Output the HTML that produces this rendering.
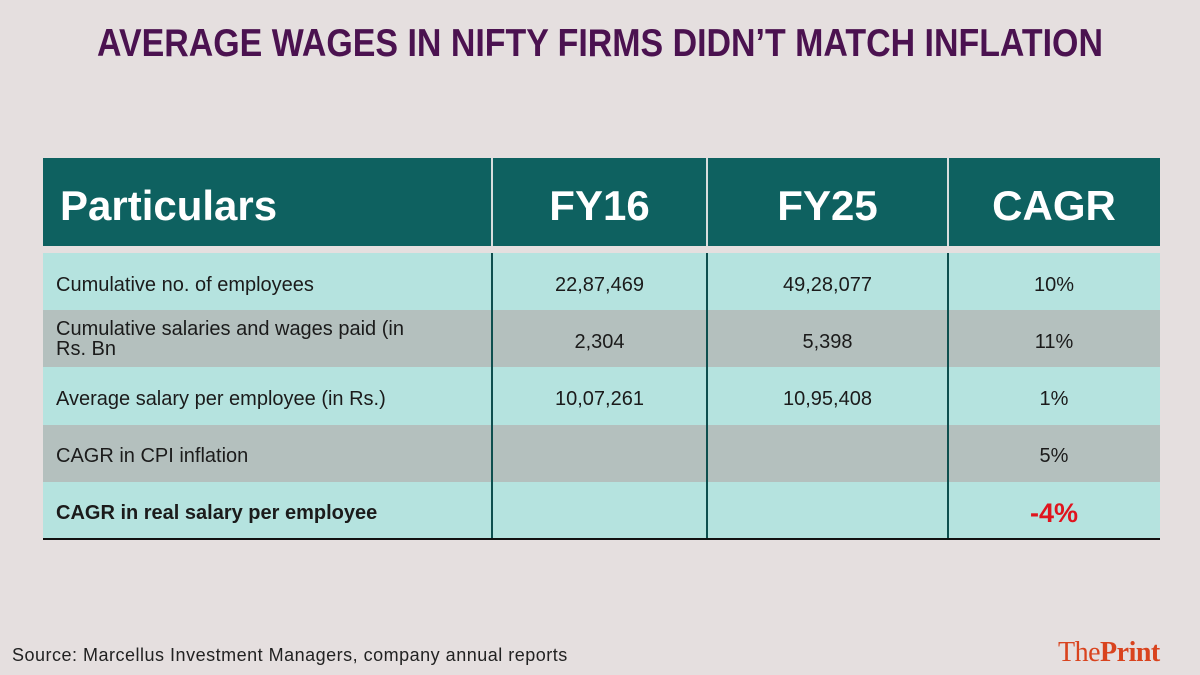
<!DOCTYPE html>
<html><head><meta charset="utf-8"><style>
body{margin:0;width:1200px;height:675px;background:#e5dfdf;position:relative;overflow:hidden;font-family:"Liberation Sans",sans-serif}
.abs{position:absolute}
#title{left:0;width:1200px;top:22px;text-align:center;font-weight:bold;font-size:39px;color:#4b1250;letter-spacing:0px;transform:scaleX(0.87);transform-origin:center}
.hdr{top:158px;height:88px;background:#0e6160;color:#fff;font-weight:bold;font-size:42px;line-height:96px}
.cell{font-size:20px;color:#1b1b1b;display:flex;align-items:center;white-space:pre-line}
.vl{background:#0e4f4f;width:2px}
</style></head><body>
<div id="title" class="abs">AVERAGE WAGES IN NIFTY FIRMS DIDN’T MATCH INFLATION</div>
<div class="abs hdr" style="left:43px;width:1117px"></div>
<div class="abs hdr" style="left:60px;width:420px;background:none">Particulars</div>
<div class="abs hdr" style="left:492px;width:215px;text-align:center;background:none">FY16</div>
<div class="abs hdr" style="left:707px;width:241px;text-align:center;background:none">FY25</div>
<div class="abs hdr" style="left:948px;width:212px;text-align:center;background:none">CAGR</div>
<div class="abs" style="left:491px;top:158px;width:2px;height:88px;background:#d8dede"></div>
<div class="abs" style="left:706px;top:158px;width:2px;height:88px;background:#d8dede"></div>
<div class="abs" style="left:947px;top:158px;width:2px;height:88px;background:#d8dede"></div>
<div id="rows"></div>
<div class="abs vl" style="left:491px;top:253px;height:286px"></div>
<div class="abs vl" style="left:706px;top:253px;height:286px"></div>
<div class="abs vl" style="left:947px;top:253px;height:286px"></div>
<div class="abs" style="left:43px;top:538px;width:1117px;height:2px;background:#111"></div>
<div class="abs" style="left:12px;top:645px;font-size:18px;letter-spacing:0.5px;color:#222">Source: Marcellus Investment Managers, company annual reports</div>
<div class="abs" style="left:1058px;top:637px;font-family:'Liberation Serif',serif;font-size:28px;color:#d9431e;letter-spacing:-0.5px">The<b>Print</b></div>
<script>
const labels=["Cumulative no. of employees","Cumulative salaries and wages paid (in\nRs. Bn","Average salary per employee (in Rs.)","CAGR in CPI inflation","CAGR in real salary per employee"];
const fy16=["22,87,469","2,304","10,07,261","",""];
const fy25=["49,28,077","5,398","10,95,408","",""];
const cagr=["10%","11%","1%","5%","-4%"];
const rows=document.getElementById('rows');
const top0=253,rh=57.2;
labels.forEach((l,i)=>{
  const y=top0+i*rh;
  const bg=document.createElement('div');
  bg.className='abs';
  bg.style.cssText=`left:43px;top:${y}px;width:1117px;height:${rh+0.5}px;background:${i%2?'#b4c0be':'#b5e3df'}`;
  
  
  rows.appendChild(bg);
  const bold=i===4;
  const cols=[[56,430,l,'left'],[492,215,fy16[i],'center'],[707,241,fy25[i],'center'],[948,212,cagr[i],'center']];
  cols.forEach((c,j)=>{
    const d=document.createElement('div');
    d.className='abs cell';
    d.style.cssText=`left:${c[0]}px;width:${c[1]}px;top:${y+(i==1&&j==0?0:3)}px;height:${rh}px;justify-content:${c[3]=='center'?'center':'flex-start'};line-height:20px;${bold?'font-weight:bold;':''}${bold&&j==3?'color:#e0141e;font-size:27px;':''}`;
    d.textContent=c[2];
    
    
    rows.appendChild(d);
  });
});
</script>
</body></html>
